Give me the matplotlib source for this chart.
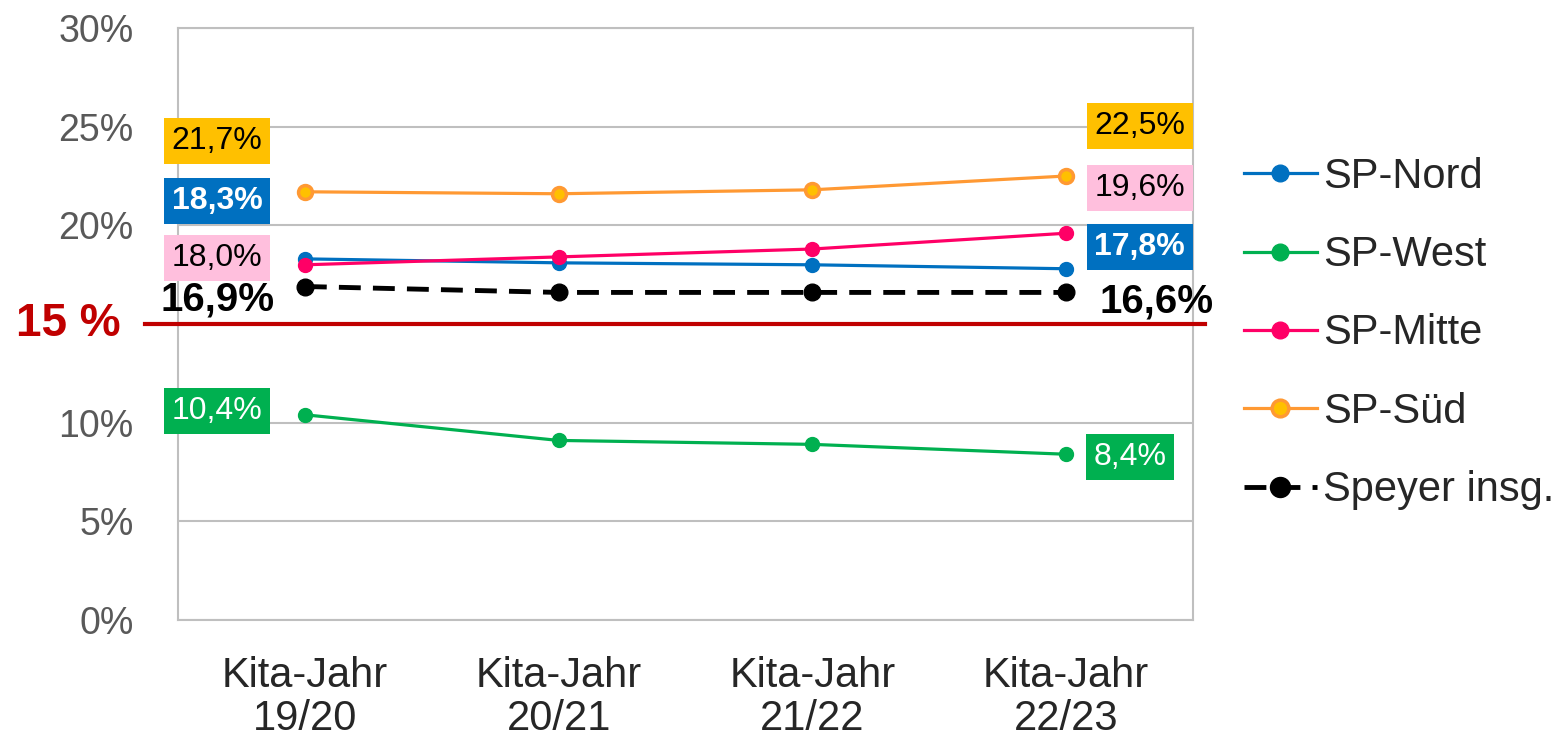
import matplotlib
matplotlib.use("Agg")
import matplotlib.pyplot as plt

plt.rcParams['font.family'] = ['Liberation Sans', 'DejaVu Sans']

# data
years = ['Kita-Jahr\n19/20', 'Kita-Jahr\n20/21', 'Kita-Jahr\n21/22', 'Kita-Jahr\n22/23']
sp_nord = [18.3, 18.1, 18.0, 17.8]
sp_west = [10.4, 9.1, 8.9, 8.4]
sp_mitte = [18.0, 18.4, 18.8, 19.6]
sp_sued = [21.7, 21.6, 21.8, 22.5]
speyer = [16.9, 16.6, 16.6, 16.6]
threshold = 15
yticks = [0, 5, 10, 20, 25, 30]

fig = plt.figure(figsize=(15.66, 7.37), dpi=100)
ax = fig.add_axes([178 / 1566, 1 - 620 / 737, (1193 - 178) / 1566, (620 - 28) / 737])

x = list(range(len(years)))
ax.plot(x, sp_nord, '-o', color='#0070C0', lw=2.3, ms=10, label='SP-Nord', zorder=4)
ax.plot(x, sp_west, '-o', color='#00B050', lw=2.3, ms=10, label='SP-West', zorder=4)
ax.plot(x, sp_mitte, '-o', color='#FF0066', lw=2.3, ms=10, label='SP-Mitte', zorder=4)
ax.plot(x, sp_sued, '-o', color='#FF9933', mfc='#FFC000', mec='#FF9933', mew=2.5,
        lw=2.3, ms=10, label='SP-Süd', zorder=4)
ax.plot(x, speyer, '--o', color='black', lw=3.5, ms=12, dashes=(4.5, 2.5),
        label='Speyer insg.', zorder=5)

# 15 % line
ax.plot([-0.63, 3.547], [threshold, threshold], color='#C00000', lw=3, clip_on=False, zorder=6)
ax.text(-0.933, threshold, '15 %', color='#C00000', fontsize=33, fontweight='bold',
        ha='center', va='center', clip_on=False)

def lab(xv, yv, val, fc, tc, bold=False, size=23):
    txt = '{:.1f}%'.format(val).replace('.', ',')
    ax.text(xv, yv, txt, ha='center', va='center', fontsize=size, color=tc,
            fontweight='bold' if bold else 'normal', zorder=7, clip_on=False,
            bbox=dict(boxstyle='square,pad=0.24', fc=fc, ec='none') if fc else None)

lab(-0.346, 24.28, sp_sued[0], '#FFC000', 'black')
lab(-0.346, 21.24, sp_nord[0], '#0070C0', 'white', bold=True)
lab(-0.346, 18.35, sp_mitte[0], '#FFBFDD', 'black')
lab(-0.346, 16.22, speyer[0], None, 'black', bold=True, size=29)
lab(-0.346, 10.59, sp_west[0], '#00B050', 'white')

lab(3.29, 25.04, sp_sued[-1], '#FFC000', 'black')
lab(3.29, 21.9, sp_mitte[-1], '#FFBFDD', 'black')
lab(3.29, 18.9, sp_nord[-1], '#0070C0', 'white', bold=True)
lab(3.358, 16.12, speyer[-1], None, 'black', bold=True, size=29)
lab(3.252, 8.26, sp_west[-1], '#00B050', 'white')

ax.set_xlim(-0.5, 3.5)
ax.set_ylim(0, 30)
ax.set_yticks(yticks)
ax.set_yticklabels(['{}%'.format(t) for t in yticks])
ax.set_xticks(x)
ax.set_xticklabels(years, linespacing=1.1)
ax.tick_params(axis='y', length=0, labelsize=27, labelcolor='#595959', pad=32)
ax.tick_params(axis='x', length=0, labelsize=30, labelcolor='#262626', pad=26)
ax.yaxis.grid(True, color='#BFBFBF', lw=1.5)
ax.set_axisbelow(True)
for s in ax.spines.values():
    s.set_color('#BFBFBF')
    s.set_linewidth(1.5)

leg = ax.legend(loc='center left', bbox_to_anchor=(1.013, 0.484), frameon=False,
                fontsize=30, handlelength=1.75, handletextpad=0.15, labelspacing=0.92,
                labelcolor='#262626', markerscale=1.2)

fig.savefig('out.png', dpi=100)
